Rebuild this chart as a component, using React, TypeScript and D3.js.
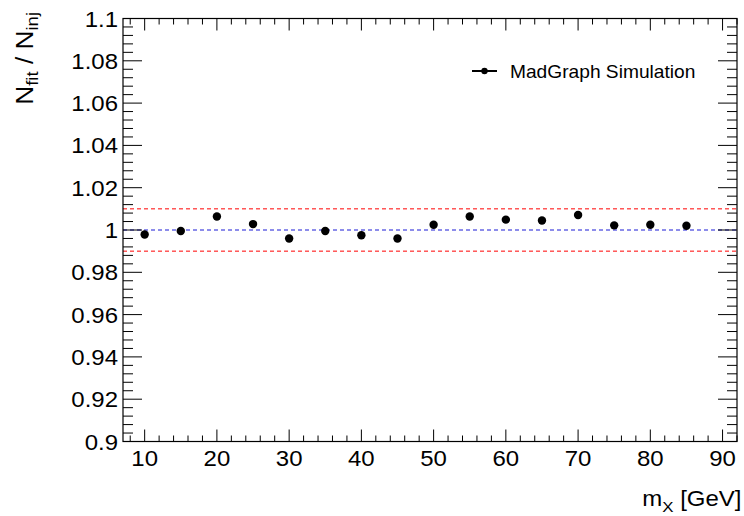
import React from "react";
import * as d3 from "d3";

const massPoints = [10, 15, 20, 25, 30, 35, 40, 45, 50, 55, 60, 65, 70, 75, 80, 85];
const ratioValues = [0.9979, 0.9995, 1.0064, 1.0028, 0.996, 0.9995, 0.9975, 0.996, 1.0025, 1.0064, 1.0049, 1.0045, 1.0071, 1.0022, 1.0025, 1.002];
const xTickValues = [10, 20, 30, 40, 50, 60, 70, 80, 90];
const yTickValues = [0.9, 0.92, 0.94, 0.96, 0.98, 1.0, 1.02, 1.04, 1.06, 1.08, 1.1];
const yTickLabels = ["0.9", "0.92", "0.94", "0.96", "0.98", "1", "1.02", "1.04", "1.06", "1.08", "1.1"];
const bandLines = [1.01, 0.99];
const refLine = 1.0;
const legendLabel = "MadGraph Simulation";

const W = 744;
const H = 516;
const L = 123;
const R = 737;
const T = 18.5;
const B = 441.5;
const SX = 1.09;
const FONT = "'Liberation Sans', Arial, Helvetica, sans-serif";

export default function App() {
  const x = d3.scaleLinear().domain([7, 92]).range([L, R]);
  const y = d3.scaleLinear().domain([0.9, 1.1]).range([B, T]);

  const xMinor = d3.range(8, 92.001, 2).filter((v) => v % 10 !== 0);
  const yMinor = d3.range(0, 51).map((i) => 0.9 + i * 0.004).filter((_, i) => i % 5 !== 0);

  const st = (tx: number, ty: number) => `translate(${tx},${ty}) scale(${SX},1)`;

  return (
    <svg width={W} height={H} style={{ position: "absolute", left: 0, top: 0, background: "#fff" }} fontFamily={FONT}>
      <rect x={0} y={0} width={W} height={H} fill="#fff" />
      {/* dashed lines */}
      {bandLines.map((v, i) => (
        <line key={"b" + i} x1={L} x2={R} y1={y(v)} y2={y(v)} stroke="#ff0000" strokeWidth={1} strokeDasharray="4,3" />
      ))}
      <line x1={L} x2={R} y1={y(refLine)} y2={y(refLine)} stroke="#1a1ad6" strokeWidth={1} strokeDasharray="4,3" />

      {/* ticks */}
      {yTickValues.map((v) => (
        <g key={"yt" + v}>
          <line x1={L} x2={L + 19} y1={y(v)} y2={y(v)} stroke="#000" />
          <line x1={R} x2={R - 19} y1={y(v)} y2={y(v)} stroke="#000" />
        </g>
      ))}
      {yMinor.map((v, i) => (
        <g key={"ym" + i}>
          <line x1={L} x2={L + 10} y1={y(v)} y2={y(v)} stroke="#000" />
          <line x1={R} x2={R - 10} y1={y(v)} y2={y(v)} stroke="#000" />
        </g>
      ))}
      {xTickValues.map((v) => (
        <g key={"xt" + v}>
          <line x1={x(v)} x2={x(v)} y1={B} y2={B - 12} stroke="#000" />
          <line x1={x(v)} x2={x(v)} y1={T} y2={T + 12} stroke="#000" />
        </g>
      ))}
      {xMinor.map((v, i) => (
        <g key={"xm" + i}>
          <line x1={x(v)} x2={x(v)} y1={B} y2={B - 6} stroke="#000" />
          <line x1={x(v)} x2={x(v)} y1={T} y2={T + 6} stroke="#000" />
        </g>
      ))}

      {/* frame */}
      <rect x={L} y={T} width={R - L} height={B - T} fill="none" stroke="#000" strokeWidth={1.2} />

      {/* tick labels */}
      {yTickValues.map((v, i) => (
        <text key={"yl" + v} transform={st(118, y(v) + 8)} textAnchor="end" fontSize={22} fill="#000">
          {yTickLabels[i]}
        </text>
      ))}
      {xTickValues.map((v) => (
        <text key={"xl" + v} transform={st(x(v), 466)} textAnchor="middle" fontSize={22} fill="#000">
          {v}
        </text>
      ))}

      {/* axis titles */}
      <text transform={st(741.5, 506)} textAnchor="end" fontSize={22} fill="#000">
        m<tspan fontSize={15.5} dy={6}>X</tspan>
        <tspan dy={-6}> [GeV]</tspan>
      </text>
      <text transform={`translate(32.5,12) rotate(-90) scale(1.12,1)`} textAnchor="end" fontSize={23.5} fill="#000">
        N<tspan fontSize={16.5} dy={5}>fit</tspan>
        <tspan dy={-5}> / N</tspan>
        <tspan fontSize={16.5} dy={5}>inj</tspan>
      </text>

      {/* data points */}
      {massPoints.map((m, i) => (
        <circle key={"p" + i} cx={x(m)} cy={y(ratioValues[i])} r={4.2} fill="#000" />
      ))}

      {/* legend */}
      <line x1={472} x2={497} y1={71} y2={71} stroke="#000" strokeWidth={2} />
      <circle cx={484.5} cy={71} r={3.2} fill="#000" />
      <text transform={st(510, 77.5)} fontSize={17.6} fill="#000">
        {legendLabel}
      </text>
    </svg>
  );
}
